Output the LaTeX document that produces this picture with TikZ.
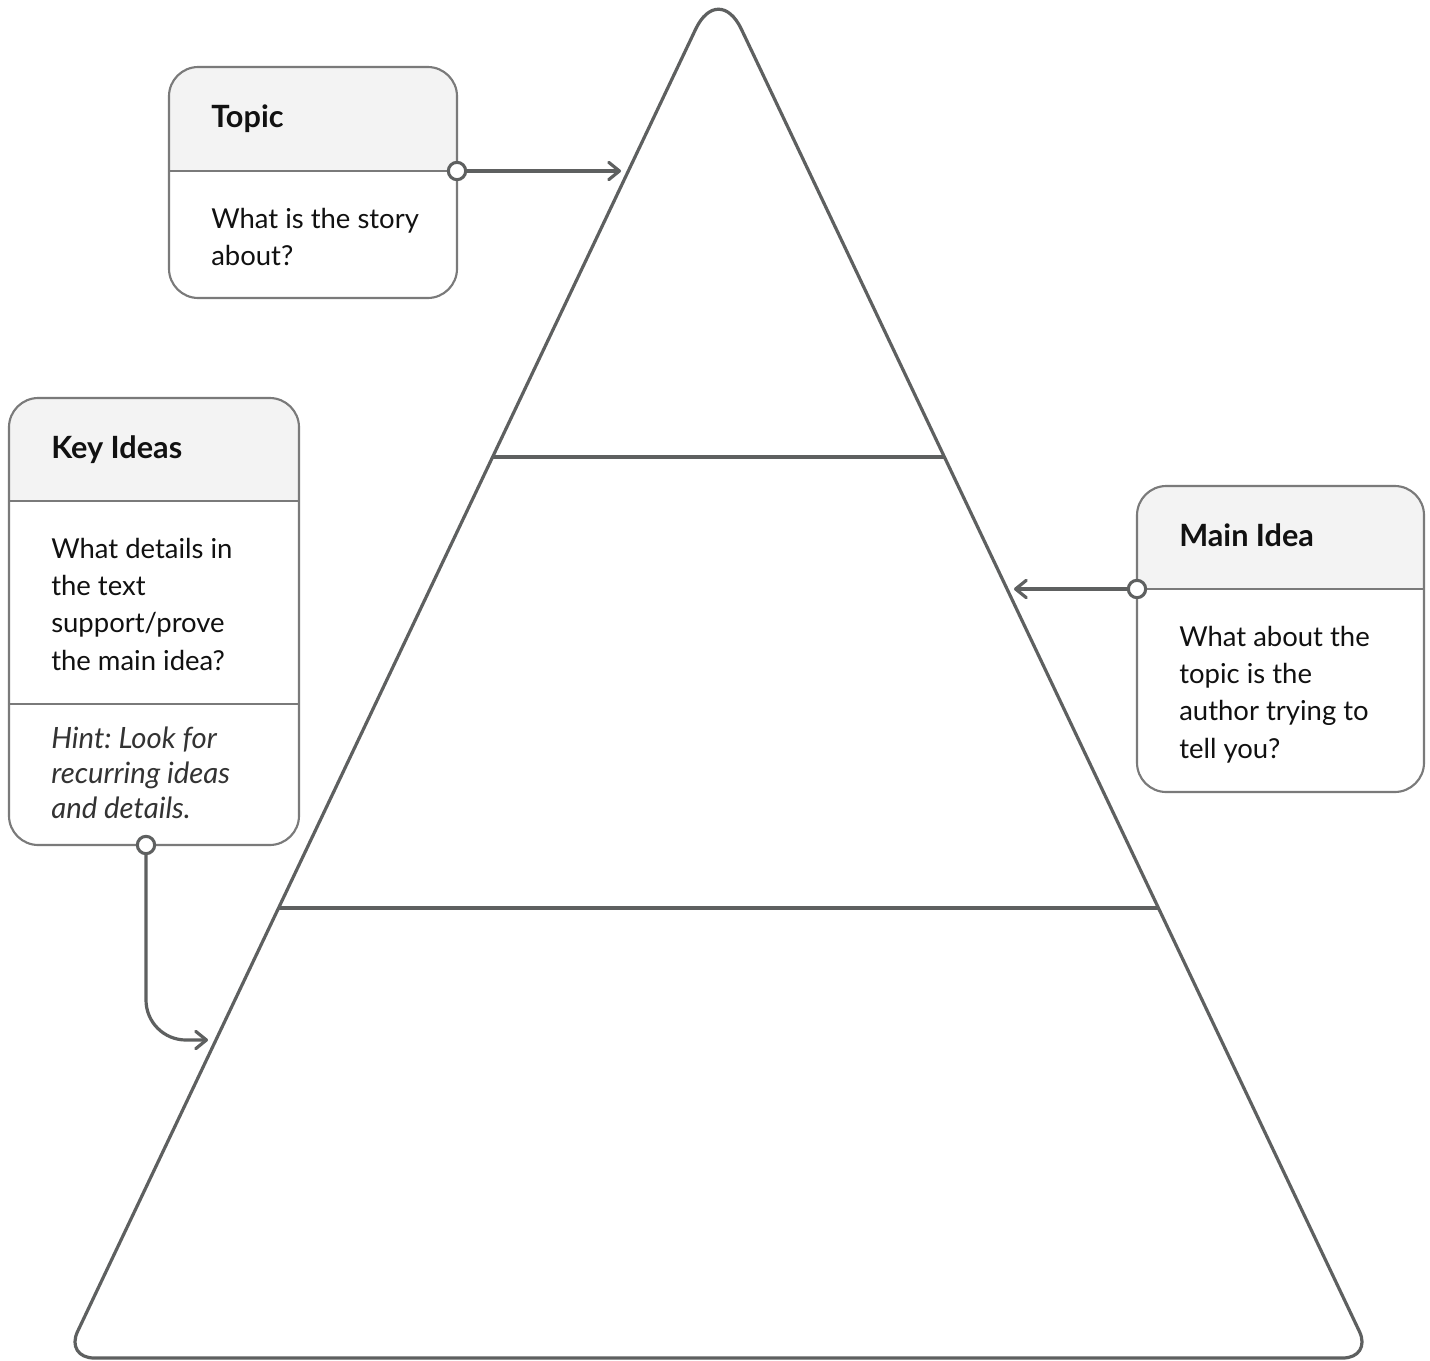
\documentclass[tikz,border=0pt]{standalone}
\usepackage{fontspec}
\setmainfont{Lato}
\usetikzlibrary{arrows.meta}
\definecolor{linec}{HTML}{5E6060}
\definecolor{boxc}{HTML}{7A7A7A}
\definecolor{headc}{HTML}{F3F3F3}
\definecolor{hintc}{HTML}{333333}
\definecolor{txtc}{HTML}{111111}
\frenchspacing
\newcommand{\lines}[2]{\parbox[t]{#1}{\raggedright #2}}
\tikzset{
  tri/.style={draw=linec, line width=2.4pt, line join=round},
  boxline/.style={draw=boxc, line width=1.6pt},
  conn/.style={draw=linec, line width=2.4pt, line cap=round,
    -{Straight Barb[length=8pt,width=13pt,line width=2.4pt,round]}},
  port/.style={circle, draw=linec, fill=white, line width=2.3pt, minimum size=13pt, inner sep=0pt},
  ttl/.style={anchor=base west, inner sep=0pt, font=\fontsize{23}{28.1}\selectfont\bfseries, text=txtc},
  body/.style={anchor=base west, inner sep=0pt, font=\fontsize{20.6}{28.1}\selectfont, text=txtc},
  hint/.style={anchor=base west, inner sep=0pt, font=\fontsize{22}{26.3}\selectfont\itshape, text=hintc},
}
\begin{document}
\begin{tikzpicture}[x=0.75pt,y=-0.75pt]
\useasboundingbox (0,0) rectangle (1430,1360);
\fill[white] (0,0) rectangle (1430,1360);

% pyramid
\draw[tri] (718.5,1358) [rounded corners=22pt] -- (1372,1358) [rounded corners=40pt] -- (718.5,-19) [rounded corners=22pt] -- (65,1358) -- cycle;
\coordinate (l1) at (493,457);
\coordinate (r1) at (945,457);
\coordinate (l2) at (278,908);
\coordinate (r2) at (1158,908);
\draw[tri] (l1) -- (r1);
\draw[tri] (l2) -- (r2);
\coordinate (ttip) at (621,171);
\coordinate (mtip) at (1014,589);
\coordinate (ktip) at (208,1040);

% Topic box
\begin{scope}
\clip[rounded corners=22pt] (169,67) rectangle (457,298);
\fill[headc] (169,67) rectangle (457,171);
\end{scope}
\draw[boxline, rounded corners=22pt] (169,67) rectangle (457,298);
\draw[boxline] (169,171) -- (457,171);
\node[ttl] (topict) at (211,127) {Topic};
\node[body] (topicb) at (211,228) {\lines{200pt}{What is the story\\about?}};

% Key Ideas box
\begin{scope}
\clip[rounded corners=22pt] (9,398) rectangle (299,845);
\fill[headc] (9,398) rectangle (299,501);
\end{scope}
\draw[boxline, rounded corners=22pt] (9,398) rectangle (299,845);
\draw[boxline] (9,501) -- (299,501);
\draw[boxline] (9,704) -- (299,704);
\node[ttl] (keyt) at (51,458) {Key Ideas};
\node[body] (keyb) at (51,558) {\lines{200pt}{What details in\\the text\\support/prove\\the main idea?}};
\node[hint] (keyh) at (51,748) {\lines{200pt}{Hint: Look for\\recurring ideas\\and details.}};

% Main Idea box
\begin{scope}
\clip[rounded corners=22pt] (1137,486) rectangle (1424,792);
\fill[headc] (1137,486) rectangle (1424,589);
\end{scope}
\draw[boxline, rounded corners=22pt] (1137,486) rectangle (1424,792);
\draw[boxline] (1137,589) -- (1424,589);
\node[ttl] (maint) at (1179,546) {Main Idea};
\node[body] (mainb) at (1179,646) {\lines{200pt}{What about the\\topic is the\\author trying to\\tell you?}};

% ports and connectors
\coordinate (tp) at (457,171);
\coordinate (mp) at (1137,589);
\coordinate (kp) at (146,845);
\draw[conn] (tp) -- (ttip);
\draw[conn] (mp) -- (mtip);
\draw[conn, rounded corners=30pt] (kp) |- (ktip);
\node[port] (tport) at (tp) {};
\node[port] (mport) at (mp) {};
\node[port] (kport) at (kp) {};
\end{tikzpicture}
\end{document}
